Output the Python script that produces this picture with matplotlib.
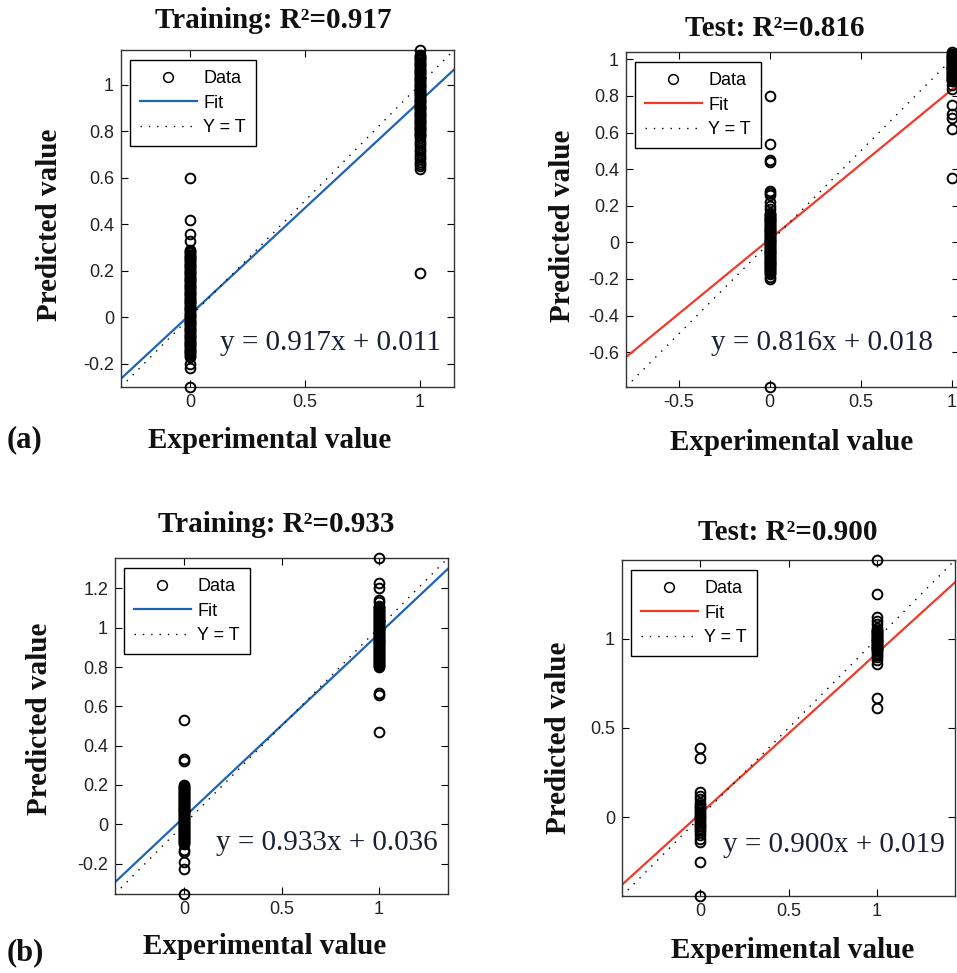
import numpy as np
import matplotlib
matplotlib.use("Agg")
import matplotlib.pyplot as plt

plt.rcParams['font.family'] = ['Liberation Sans', 'DejaVu Sans']

W, H = 957, 973

# ---- datos (valores predichos para clase 0 y clase 1) ----
train_a_x0 = [0.60, 0.42, 0.36, 0.33,
              0.290, 0.285, 0.280, 0.275, 0.270, 0.265, 0.260, 0.255, 0.250, 0.245,
              0.240, 0.235, 0.230, 0.225, 0.220, 0.215, 0.210, 0.205, 0.200, 0.195,
              0.190, 0.185, 0.180, 0.175, 0.170, 0.165, 0.160, 0.155, 0.150, 0.145,
              0.140, 0.135, 0.130, 0.125, 0.120, 0.115, 0.110, 0.105, 0.100, 0.095,
              0.090, 0.085, 0.080, 0.075, 0.070, 0.065, 0.060, 0.055, 0.050, 0.045,
              0.040, 0.035, 0.030, 0.025, 0.020, 0.015, 0.010, 0.005, 0.000, -0.005,
              -0.010, -0.015, -0.020, -0.025, -0.030, -0.035, -0.040, -0.045, -0.050,
              -0.055, -0.060, -0.065, -0.070, -0.075, -0.080, -0.085, -0.090, -0.095,
              -0.100, -0.105, -0.110, -0.115, -0.120, -0.125, -0.130, -0.135, -0.140,
              -0.145, -0.150, -0.155, -0.160, -0.165, -0.170,
              -0.20, -0.22, -0.30]
train_a_x1 = [1.15,
              1.130, 1.125, 1.120, 1.115, 1.110, 1.105, 1.100, 1.095, 1.090, 1.085,
              1.080, 1.075, 1.070, 1.065, 1.060, 1.055, 1.050, 1.045, 1.040, 1.035,
              1.030, 1.025, 1.020, 1.015, 1.010, 1.005, 1.000, 0.995, 0.990, 0.985,
              0.980, 0.975, 0.970, 0.965, 0.960, 0.955, 0.950, 0.945, 0.940, 0.935,
              0.930, 0.925, 0.920, 0.915, 0.910, 0.905, 0.900, 0.895, 0.890, 0.885,
              0.880, 0.875, 0.870, 0.865, 0.860, 0.855, 0.850, 0.845, 0.840, 0.835,
              0.830, 0.825, 0.820, 0.815, 0.810, 0.805, 0.800, 0.795, 0.790, 0.785,
              0.780, 0.77, 0.76, 0.75, 0.74, 0.73, 0.72, 0.71, 0.70, 0.69, 0.68, 0.67,
              0.66, 0.65, 0.64, 0.19]
test_a_x0 = [0.80, 0.54, 0.45, 0.44, 0.28, 0.27, 0.26, 0.22, 0.20, 0.18,
             0.160, 0.155, 0.150, 0.145, 0.140, 0.135, 0.130, 0.125, 0.120, 0.115,
             0.110, 0.105, 0.100, 0.095, 0.090, 0.085, 0.080, 0.075, 0.070, 0.065,
             0.060, 0.055, 0.050, 0.045, 0.040, 0.035, 0.030, 0.025, 0.020, 0.015,
             0.010, 0.005, 0.000, -0.005, -0.010, -0.015, -0.020, -0.025, -0.030,
             -0.035, -0.040, -0.045, -0.050, -0.055, -0.060, -0.065, -0.070, -0.075,
             -0.080, -0.085, -0.090, -0.095, -0.100, -0.105, -0.110, -0.115, -0.120,
             -0.125, -0.130, -0.135, -0.140, -0.145, -0.150, -0.155, -0.160, -0.165,
             -0.170, -0.19, -0.20, -0.79]
test_a_x1 = [1.04, 1.030, 1.025, 1.020, 1.015, 1.010, 1.005, 1.000, 0.995, 0.990,
             0.985, 0.980, 0.975, 0.970, 0.965, 0.960, 0.955, 0.950, 0.945, 0.940,
             0.935, 0.930, 0.925, 0.920, 0.915, 0.910, 0.905, 0.900, 0.895, 0.890,
             0.885, 0.880, 0.86, 0.84, 0.75, 0.70, 0.68, 0.62, 0.35]
train_b_x0 = [0.53, 0.33, 0.32,
              0.200, 0.195, 0.190, 0.185, 0.180, 0.175, 0.170, 0.165, 0.160, 0.155,
              0.150, 0.145, 0.140, 0.135, 0.130, 0.125, 0.120, 0.115, 0.110, 0.105,
              0.100, 0.095, 0.090, 0.085, 0.080, 0.075, 0.070, 0.065, 0.060, 0.055,
              0.050, 0.045, 0.040, 0.035, 0.030, 0.025, 0.020, 0.015, 0.010, 0.005,
              0.000, -0.005, -0.010, -0.015, -0.020, -0.025, -0.030, -0.035, -0.040,
              -0.045, -0.050, -0.055, -0.060, -0.065, -0.070, -0.075, -0.080, -0.085,
              -0.090, -0.095, -0.100, -0.13, -0.14, -0.19, -0.23, -0.355]
train_b_x1 = [1.355, 1.23, 1.20, 1.14, 1.13,
              1.110, 1.105, 1.100, 1.095, 1.090, 1.085, 1.080, 1.075, 1.070, 1.065,
              1.060, 1.055, 1.050, 1.045, 1.040, 1.035, 1.030, 1.025, 1.020, 1.015,
              1.010, 1.005, 1.000, 0.995, 0.990, 0.985, 0.980, 0.975, 0.970, 0.965,
              0.960, 0.955, 0.950, 0.945, 0.940, 0.935, 0.930, 0.925, 0.920, 0.915,
              0.910, 0.905, 0.900, 0.895, 0.890, 0.885, 0.880, 0.875, 0.870, 0.865,
              0.860, 0.855, 0.850, 0.845, 0.840, 0.835, 0.830, 0.825, 0.820, 0.815,
              0.810, 0.805, 0.800, 0.67, 0.66, 0.47]
test_b_x0 = [0.39, 0.33, 0.14, 0.12, 0.10, 0.08, 0.07, 0.06, 0.05, 0.04, 0.03, 0.02,
             0.01, 0.00, -0.01, -0.02, -0.03, -0.04, -0.05, -0.06, -0.07, -0.08,
             -0.10, -0.12, -0.14, -0.25, -0.44]
test_b_x1 = [1.44, 1.25, 1.12, 1.10, 1.08, 1.06, 1.05, 1.045, 1.04, 1.035, 1.03,
             1.025, 1.02, 1.015, 1.01, 1.005, 1.00, 0.995, 0.99, 0.985, 0.98, 0.975,
             0.97, 0.965, 0.96, 0.955, 0.95, 0.945, 0.94, 0.935, 0.93, 0.92, 0.91,
             0.90, 0.88, 0.86, 0.67, 0.61]

pendientes = [0.917, 0.816, 0.933, 0.900]
interceptos = [0.011, 0.018, 0.036, 0.019]
r2 = ["0.917", "0.816", "0.933", "0.900"]
nombres = ["Training", "Test", "Training", "Test"]
limites = [(-0.30, 1.15), (-0.79, 1.04), (-0.355, 1.355), (-0.44, 1.44)]
yticks = [[-0.2, 0, 0.2, 0.4, 0.6, 0.8, 1],
          [-0.6, -0.4, -0.2, 0, 0.2, 0.4, 0.6, 0.8, 1],
          [-0.2, 0, 0.2, 0.4, 0.6, 0.8, 1, 1.2],
          [0, 0.5, 1]]
xticks = [[0, 0.5, 1], [-0.5, 0, 0.5, 1], [0, 0.5, 1], [0, 0.5, 1]]
datos = [(train_a_x0, train_a_x1), (test_a_x0, test_a_x1),
         (train_b_x0, train_b_x1), (test_b_x0, test_b_x1)]
colores = ['#1f63b5', '#f03a2a', '#1f63b5', '#f03a2a']

# posiciones en pixeles: izquierda, arriba, derecha, abajo
cajas = [(121, 50, 454, 387), (626, 52, 959, 387),
         (115, 558, 448, 894), (622, 560, 955, 896)]
titulo_pos = [(273, 21), (775, 28), (276, 525), (788, 532)]
xlabel_pos = [(270, 440), (792, 443), (265, 947), (793, 950)]
ylabel_pos = [(50, 225), (562, 226), (40, 719), (559, 738)]
ecuacion_pos = [(441, 343), (933, 343), (438, 843), (945, 845)]

serif = ['Liberation Serif', 'DejaVu Serif']
fig = plt.figure(figsize=(W / 100, H / 100), dpi=100)

for i in range(4):
    l, t, r, b = cajas[i]
    ax = fig.add_axes([l / W, 1 - b / H, (r - l) / W, (b - t) / H])
    lo, hi = limites[i]
    x0, x1 = datos[i]
    xs = np.array([lo, hi])
    ax.plot(xs, pendientes[i] * xs + interceptos[i], '-', color=colores[i], lw=1.6,
            label='Fit', zorder=2)
    ax.plot(xs, xs, color='k', lw=1.0, ls=(0, (1, 5)), label='Y = T', zorder=2)
    ax.plot(np.r_[np.zeros(len(x0)), np.ones(len(x1))], np.r_[x0, x1], 'o', ms=7,
            mfc='none', mec='k', mew=1.4, label='Data', zorder=3, clip_on=False)
    ax.set_xlim(lo, hi)
    ax.set_ylim(lo, hi)
    ax.set_xticks(xticks[i])
    ax.set_yticks(yticks[i])
    ax.set_xticklabels([f"{v:g}" for v in xticks[i]])
    ax.set_yticklabels([f"{v:g}" for v in yticks[i]])
    ax.tick_params(direction='in', length=5, width=0.8, top=True, right=True,
                   labelsize=13, labelcolor='#222222', pad=5)
    for s in ax.spines.values():
        s.set_linewidth(1.0)
        s.set_color('#333333')
    h, lab = ax.get_legend_handles_labels()
    leg = ax.legend([h[2], h[0], h[1]], [lab[2], lab[0], lab[1]], loc='upper left',
                    bbox_to_anchor=(0.027, 0.97), fontsize=13, handlelength=3.15,
                    handletextpad=0.37, labelspacing=0.42, borderpad=0.55,
                    fancybox=False, framealpha=1, edgecolor='k', borderaxespad=0)
    leg.get_frame().set_linewidth(1.0)
    leg.legend_handles[0].set_markeredgewidth(1.1)

    tx, ty = titulo_pos[i]
    fig.text(tx / W, 1 - ty / H, f"{nombres[i]}: R²={r2[i]}", family=serif,
             weight='bold', fontsize=21, ha='center', va='center', color='#111111')
    tx, ty = xlabel_pos[i]
    fig.text(tx / W, 1 - ty / H, "Experimental value", family=serif, weight='bold',
             fontsize=21, ha='center', va='center', color='#111111')
    tx, ty = ylabel_pos[i]
    fig.text(tx / W, 1 - ty / H, "Predicted value", family=serif, weight='bold',
             fontsize=21, ha='center', va='center', rotation=90, color='#111111')
    tx, ty = ecuacion_pos[i]
    fig.text(tx / W, 1 - ty / H, f"y = {pendientes[i]:.3f}x + {interceptos[i]:.3f}",
             family=serif, fontsize=21, ha='right', va='center', color='#1b2033')

fig.text(7 / W, 1 - 440 / H, "(a)", family=serif, weight='bold', fontsize=22,
         ha='left', va='center', color='#111111')
fig.text(7 / W, 1 - 953 / H, "(b)", family=serif, weight='bold', fontsize=22,
         ha='left', va='center', color='#111111')

fig.savefig("out.png", dpi=100)
